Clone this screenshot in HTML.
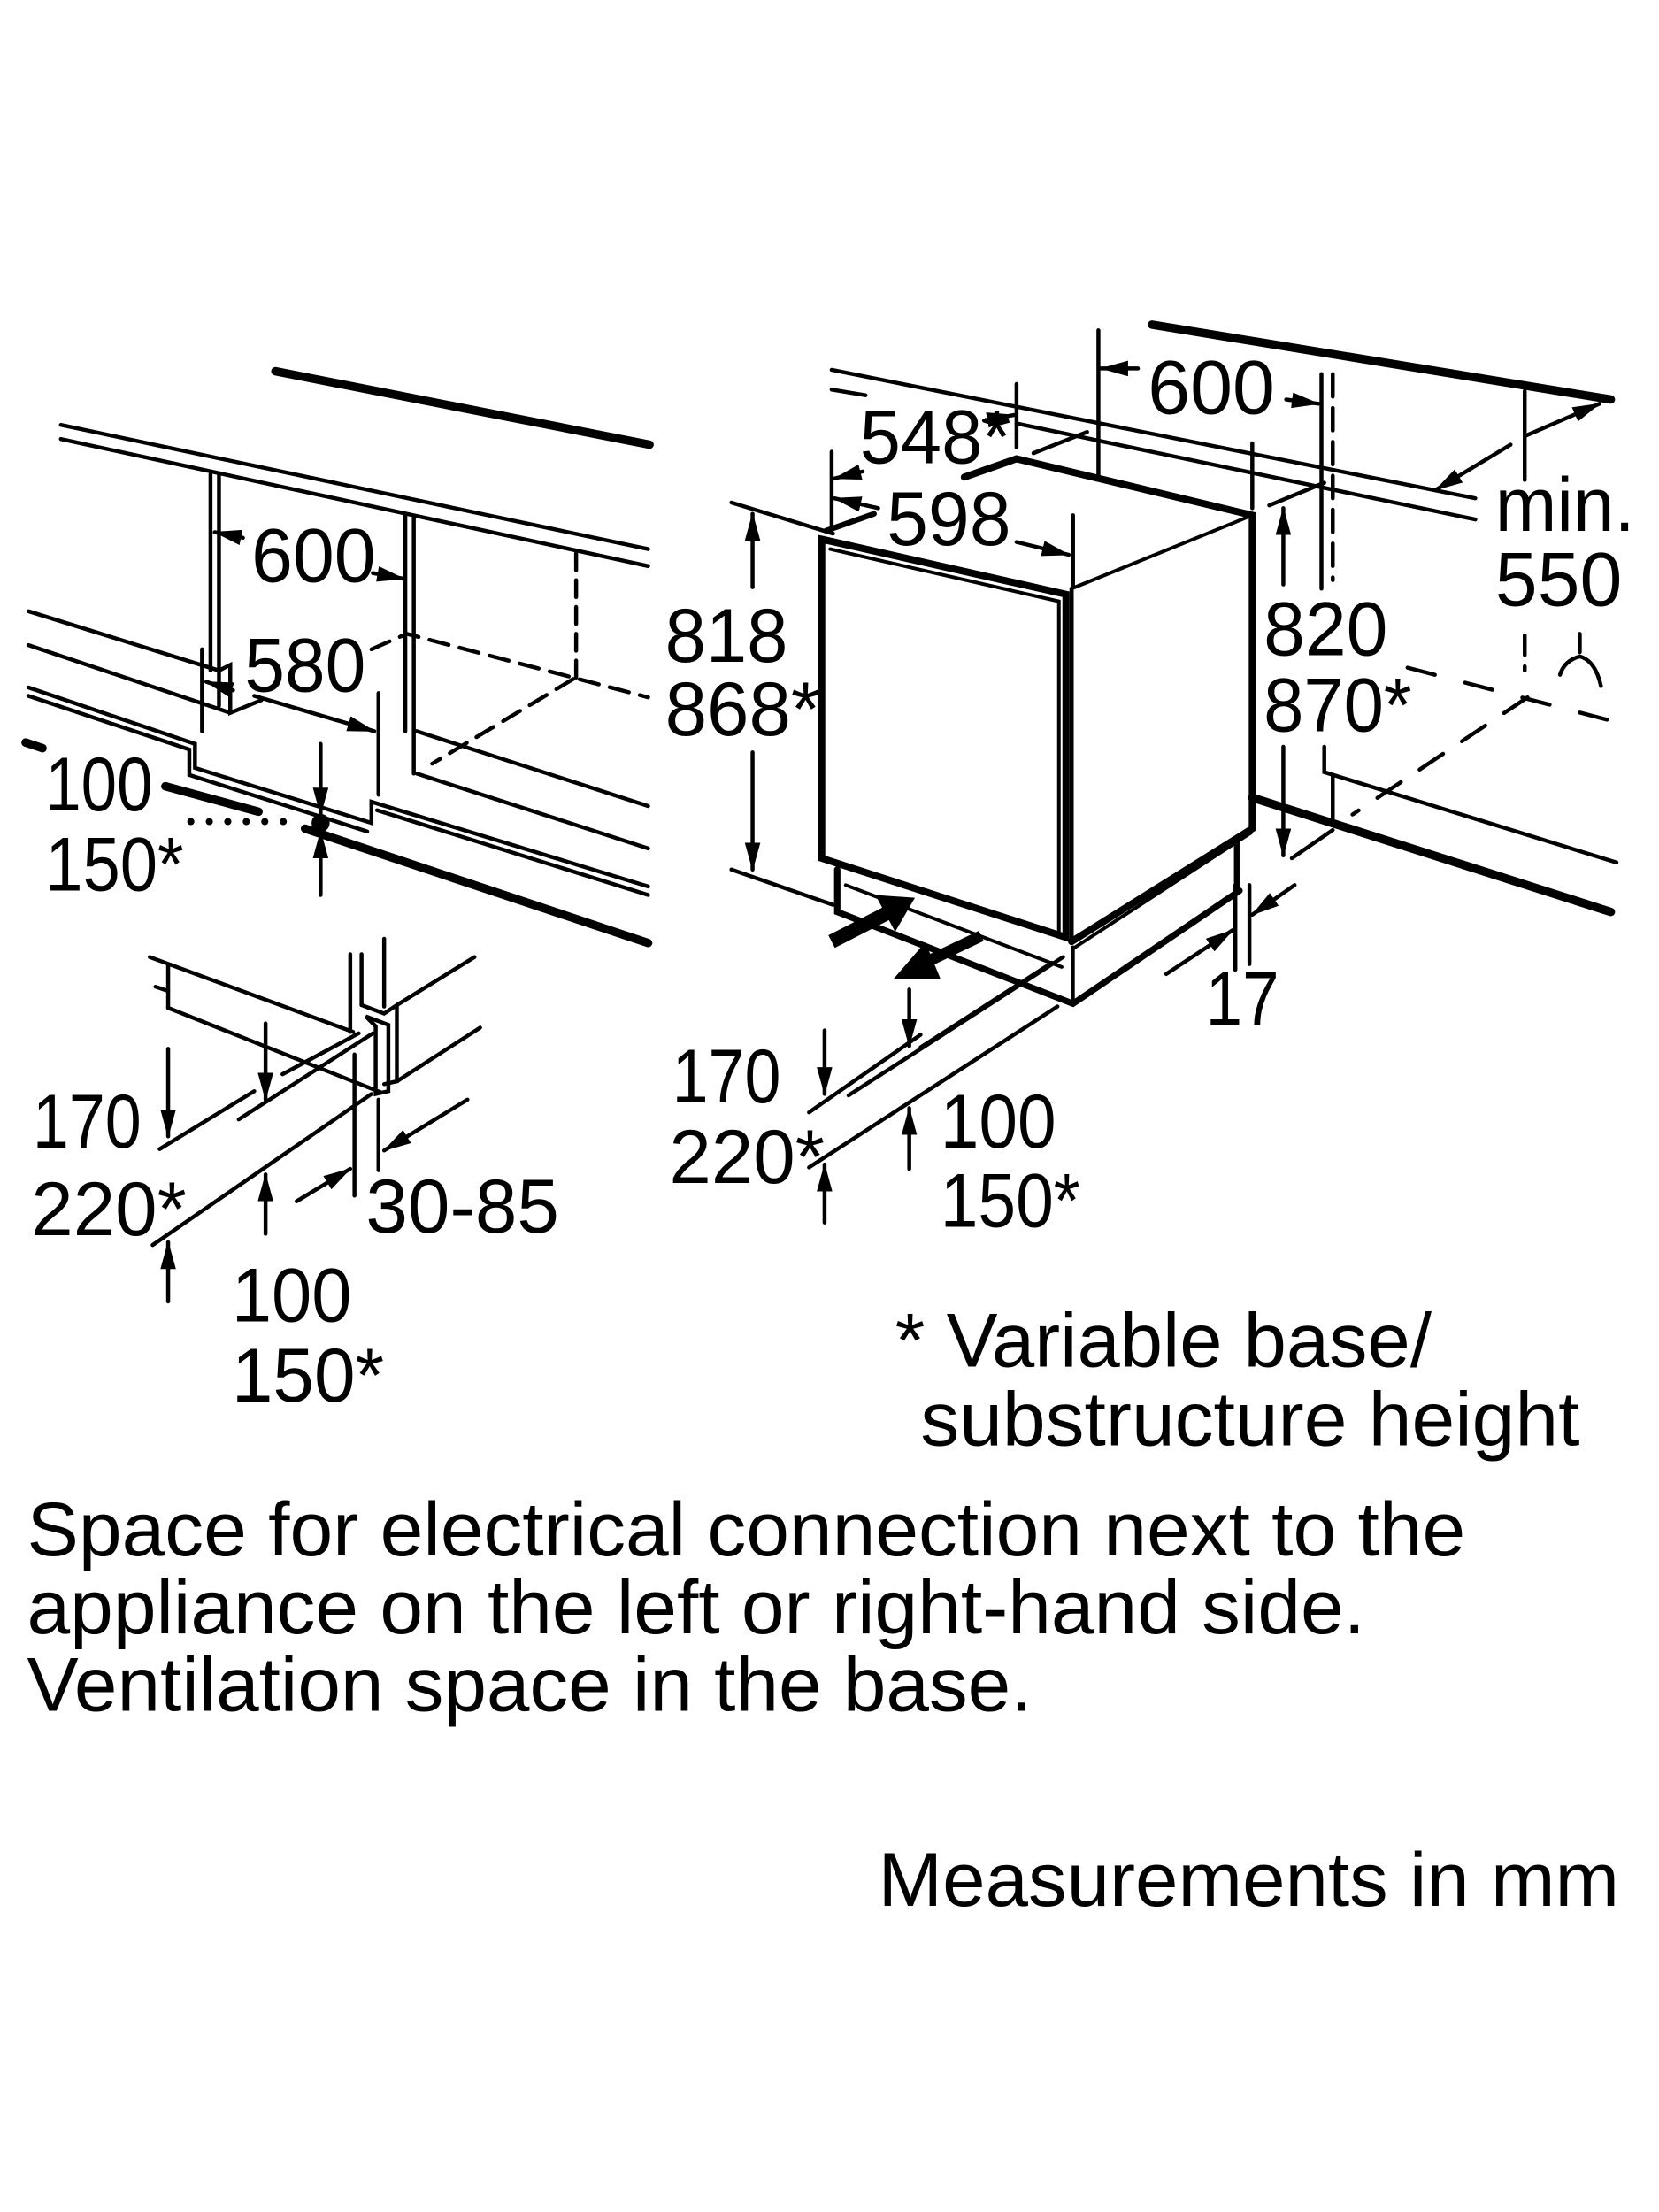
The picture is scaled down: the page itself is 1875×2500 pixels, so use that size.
<!DOCTYPE html>
<html><head><meta charset="utf-8"><style>
html,body{margin:0;padding:0;background:#fff}
svg{display:block}
text{font-family:"Liberation Sans",Arial,sans-serif;font-size:54px;fill:#000}
</style></head><body>
<svg width="1875" height="2500" viewBox="0 0 1175 1567" xmlns="http://www.w3.org/2000/svg">
<defs>
<marker id="a" viewBox="0 0 20 11" refX="19" refY="5.5" markerWidth="20" markerHeight="11" markerUnits="userSpaceOnUse" orient="auto">
<path d="M0,0 L20,5.5 L0,11 Z" fill="#000"/></marker>
</defs>
<rect width="1175" height="1567" fill="#fff"/>
<g stroke="#000" fill="none" stroke-width="2.8" stroke-linecap="round">
<!-- LEFT TOP DIAGRAM -->
<line x1="195" y1="263" x2="460" y2="315" stroke-width="6"/>
<line x1="43" y1="301" x2="459" y2="389"/>
<line x1="43" y1="311" x2="459" y2="401"/>
<line x1="149" y1="336" x2="149" y2="475"/>
<line x1="155" y1="336" x2="155" y2="500"/>
<path d="M155,475 L163,471 L163,505 L185,496"/>
<line x1="287" y1="365" x2="287" y2="518"/>
<line x1="293" y1="367" x2="293" y2="548"/>
<line x1="408" y1="392" x2="408" y2="480" stroke-dasharray="12,7"/>
<path d="M263,460 L288,449 L459,494" stroke-dasharray="14,8"/>
<line x1="406" y1="481" x2="306" y2="541" stroke-dasharray="14,8"/>
<line x1="295" y1="518" x2="459" y2="571"/>
<line x1="295" y1="548" x2="459" y2="601"/>
<line x1="20" y1="433" x2="155" y2="475"/>
<line x1="20" y1="457" x2="163" y2="505"/>
<line x1="143" y1="460" x2="143" y2="518"/>
<line x1="268" y1="491" x2="268" y2="563"/>
<line x1="165" y1="489" x2="146" y2="483" marker-end="url(#a)"/>
<line x1="180" y1="493" x2="265" y2="518" marker-end="url(#a)"/>
<line x1="172" y1="381" x2="152" y2="377" marker-end="url(#a)"/>
<line x1="264" y1="406" x2="286" y2="410" marker-end="url(#a)"/>
<path d="M20,487 L138,527 L138,544 L263,583 L263,568 L459,628"/>
<path d="M20,493 L134,531 L134,549 L260,589"/>
<line x1="267" y1="574" x2="459" y2="634"/>
<line x1="18" y1="526" x2="30" y2="530" stroke-width="6"/>
<line x1="117" y1="557" x2="183" y2="575" stroke-width="6"/>
<line x1="216" y1="587" x2="459" y2="668" stroke-width="6"/>
<g stroke-width="5" stroke-dasharray="0.1,13"><line x1="135" y1="582" x2="210" y2="582"/></g>
<circle cx="227" cy="583" r="5" fill="#000"/>
<line x1="227" y1="527" x2="227" y2="577" marker-end="url(#a)"/>
<line x1="227" y1="634" x2="227" y2="589" marker-end="url(#a)"/>
<!-- 818 -->
<line x1="518" y1="356" x2="590" y2="378"/>
<line x1="518" y1="616" x2="590" y2="641"/>
<line x1="533" y1="416" x2="533" y2="364" marker-end="url(#a)"/>
<line x1="533" y1="533" x2="533" y2="616" marker-end="url(#a)"/>
<!-- LEFT LOWER DETAIL -->
<line x1="106" y1="678" x2="250" y2="731"/>
<line x1="119" y1="684" x2="119" y2="714"/>
<line x1="110" y1="699" x2="119" y2="702"/>
<line x1="119" y1="714" x2="270" y2="774"/>
<line x1="248" y1="676" x2="248" y2="731"/>
<line x1="256" y1="676" x2="256" y2="712"/>
<line x1="272" y1="665" x2="272" y2="713"/>
<path d="M256,712 L272,718 L281,712 L281,766 L272,768"/>
<path d="M259,720 L275,726 L275,773 L266,775 L266,727 Z"/>
<line x1="281" y1="712" x2="336" y2="678"/>
<line x1="281" y1="766" x2="340" y2="728"/>
<line x1="113" y1="814" x2="180" y2="773"/>
<line x1="169" y1="793" x2="264" y2="732"/>
<line x1="200" y1="761" x2="254" y2="732"/>
<line x1="108" y1="882" x2="263" y2="775"/>
<line x1="251" y1="747" x2="251" y2="847"/>
<line x1="268" y1="779" x2="268" y2="829"/>
<line x1="119" y1="743" x2="119" y2="805" marker-end="url(#a)"/>
<line x1="188" y1="725" x2="188" y2="779" marker-end="url(#a)"/>
<line x1="188" y1="874" x2="188" y2="832" marker-end="url(#a)"/>
<line x1="119" y1="922" x2="119" y2="880" marker-end="url(#a)"/>
<line x1="210" y1="851" x2="248" y2="828" marker-end="url(#a)"/>
<line x1="331" y1="779" x2="272" y2="815" marker-end="url(#a)"/>
<!-- RIGHT DIAGRAM -->
<line x1="816" y1="230" x2="1141" y2="283" stroke-width="6"/>
<line x1="589" y1="262" x2="1045" y2="353"/>
<line x1="589" y1="276" x2="613" y2="280"/>
<line x1="720" y1="300" x2="1045" y2="368"/>
<line x1="778" y1="234" x2="778" y2="338"/>
<line x1="936" y1="265" x2="936" y2="417"/>
<line x1="944" y1="265" x2="944" y2="411" stroke-dasharray="16,8"/>
<line x1="806" y1="261" x2="780" y2="261" marker-end="url(#a)"/>
<line x1="911" y1="283" x2="934" y2="286" marker-end="url(#a)"/>
<line x1="697" y1="298" x2="718" y2="294" marker-end="url(#a)"/>
<line x1="720" y1="272" x2="720" y2="317"/>
<line x1="589" y1="320" x2="589" y2="377"/>
<line x1="611" y1="334" x2="591" y2="339" marker-end="url(#a)"/>
<line x1="622" y1="360" x2="591" y2="353" marker-end="url(#a)"/>
<line x1="720" y1="384" x2="757" y2="393" marker-end="url(#a)"/>
<line x1="760" y1="365" x2="760" y2="416"/>
<line x1="732" y1="321" x2="770" y2="306"/>
<line x1="887" y1="314" x2="887" y2="360"/>
<!-- cube -->
<path d="M683,338 L720,325 L887,365 L887,587 L759,667" stroke-width="5"/>
<line x1="759" y1="417" x2="887" y2="365" stroke-width="2.5"/>
<line x1="585" y1="376" x2="619" y2="364" stroke-width="4"/>
<path d="M582,382 L755,421 L755,664 L582,608 Z" stroke-width="5"/>
<path d="M588,389 L750,426 L750,660" stroke-width="2.5"/>
<line x1="759" y1="417" x2="759" y2="668" stroke-width="3"/>
<!-- plinth -->
<path d="M593,616 L593,646 L760,711 L878,631" stroke-width="4.5"/>
<line x1="599" y1="627" x2="752" y2="685" stroke-width="2.5"/>
<line x1="760" y1="671" x2="760" y2="708" stroke-width="2.5"/>
<line x1="876" y1="597" x2="876" y2="632" stroke-width="4"/>
<path d="M886,590 L760,672" stroke-width="2.5"/>
<!-- vent arrows -->
<line x1="589" y1="667" x2="630" y2="646" stroke-width="10" stroke-linecap="butt"/>
<path d="M648,636 L620,634 L634,660 Z" fill="#000" stroke="none"/>
<line x1="695" y1="663" x2="655" y2="682" stroke-width="8" stroke-linecap="butt"/>
<path d="M636,692 L655,670 L664,692 Z" fill="#000"/>
<!-- base lines -->
<line x1="749" y1="713" x2="573" y2="827"/>
<line x1="753" y1="678" x2="601" y2="776"/>
<line x1="745" y1="682" x2="652" y2="742"/>
<line x1="652" y1="733" x2="573" y2="788"/>
<line x1="644" y1="701" x2="644" y2="741" marker-end="url(#a)"/>
<line x1="584" y1="730" x2="584" y2="775" marker-end="url(#a)"/>
<line x1="644" y1="828" x2="644" y2="785" marker-end="url(#a)"/>
<line x1="584" y1="866" x2="584" y2="825" marker-end="url(#a)"/>
<!-- 820 -->
<line x1="899" y1="358" x2="938" y2="342"/>
<line x1="915" y1="608" x2="944" y2="588"/>
<line x1="909" y1="414" x2="909" y2="360" marker-end="url(#a)"/>
<line x1="909" y1="529" x2="909" y2="606" marker-end="url(#a)"/>
<!-- 17 -->
<line x1="875" y1="627" x2="875" y2="687"/>
<line x1="885" y1="627" x2="885" y2="683"/>
<line x1="826" y1="690" x2="873" y2="659" marker-end="url(#a)"/>
<line x1="917" y1="627" x2="887" y2="648" marker-end="url(#a)"/>
<!-- right wall -->
<path d="M938,529 L938,547 L1145,611"/>
<line x1="887" y1="565" x2="1141" y2="646" stroke-width="6"/>
<line x1="944" y1="550" x2="944" y2="584"/>
<line x1="997" y1="473" x2="1139" y2="510" stroke-dasharray="20,22"/>
<line x1="1082" y1="494" x2="958" y2="577" stroke-dasharray="20,16"/>
<line x1="1080" y1="277" x2="1080" y2="340"/>
<line x1="1080" y1="450" x2="1080" y2="475" stroke-dasharray="14,8"/>
<line x1="1070" y1="315" x2="1017" y2="347" marker-end="url(#a)"/>
<line x1="1080" y1="309" x2="1133" y2="286" marker-end="url(#a)"/>
<path d="M1119,449 L1119,462 M1105,478 Q1108,468 1119,465 Q1130,468 1134,486"/>
</g>
<!-- TEXT -->
<text x="178" y="412" textLength="88" lengthAdjust="spacingAndGlyphs">600</text>
<text x="173" y="490" textLength="86" lengthAdjust="spacingAndGlyphs">580</text>
<text x="32" y="574" textLength="76" lengthAdjust="spacingAndGlyphs">100</text>
<text x="32" y="631" textLength="98" lengthAdjust="spacingAndGlyphs">150*</text>
<text x="471" y="469" textLength="87" lengthAdjust="spacingAndGlyphs">818</text>
<text x="471" y="521" textLength="110" lengthAdjust="spacingAndGlyphs">868*</text>
<text x="23" y="813" textLength="77" lengthAdjust="spacingAndGlyphs">170</text>
<text x="22" y="875" textLength="110" lengthAdjust="spacingAndGlyphs">220*</text>
<text x="259" y="873" textLength="137" lengthAdjust="spacingAndGlyphs">30-85</text>
<text x="164" y="936" textLength="85" lengthAdjust="spacingAndGlyphs">100</text>
<text x="164" y="993" textLength="108" lengthAdjust="spacingAndGlyphs">150*</text>
<text x="813" y="293" textLength="90" lengthAdjust="spacingAndGlyphs">600</text>
<text x="609" y="328" textLength="107" lengthAdjust="spacingAndGlyphs">548*</text>
<text x="628" y="386" textLength="88" lengthAdjust="spacingAndGlyphs">598</text>
<text x="895" y="464" textLength="88" lengthAdjust="spacingAndGlyphs">820</text>
<text x="895" y="518" textLength="105" lengthAdjust="spacingAndGlyphs">870*</text>
<text x="1059" y="376" textLength="99" lengthAdjust="spacingAndGlyphs">min.</text>
<text x="1059" y="429" textLength="90" lengthAdjust="spacingAndGlyphs">550</text>
<text x="476" y="781" textLength="77" lengthAdjust="spacingAndGlyphs">170</text>
<text x="474" y="838" textLength="110" lengthAdjust="spacingAndGlyphs">220*</text>
<text x="666" y="813" textLength="82" lengthAdjust="spacingAndGlyphs">100</text>
<text x="666" y="869" textLength="99" lengthAdjust="spacingAndGlyphs">150*</text>
<text x="854" y="726" textLength="52" lengthAdjust="spacingAndGlyphs">17</text>
<text x="634" y="968" textLength="380" lengthAdjust="spacingAndGlyphs">* Variable base/</text>
<text x="652" y="1024" textLength="467" lengthAdjust="spacingAndGlyphs">substructure height</text>
<text x="19" y="1102" textLength="1019" lengthAdjust="spacingAndGlyphs">Space for electrical connection next to the</text>
<text x="19" y="1157" textLength="948" lengthAdjust="spacingAndGlyphs">appliance on the left or right-hand side.</text>
<text x="19" y="1212" textLength="712" lengthAdjust="spacingAndGlyphs">Ventilation space in the base.</text>
<text x="622" y="1350" textLength="525" lengthAdjust="spacingAndGlyphs">Measurements in mm</text>
</svg>
</body></html>
